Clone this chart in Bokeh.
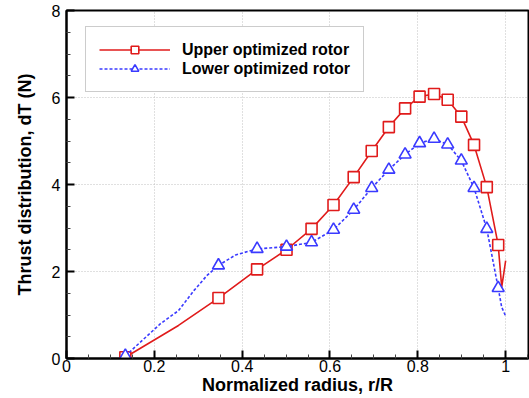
from bokeh.plotting import figure
from bokeh.models import FixedTicker, Legend, LegendItem, Range1d
from bokeh.embed import file_html
from bokeh.resources import INLINE

# Upper optimized rotor (red, solid, squares)
upper_r = [0.134, 0.255, 0.346, 0.434, 0.501, 0.558, 0.608, 0.654, 0.695, 0.734,
           0.771, 0.804, 0.837, 0.868, 0.899, 0.928, 0.957, 0.983, 0.991, 1.0]
upper_dT = [0.03, 0.76, 1.39, 2.05, 2.50, 2.98, 3.53, 4.17, 4.77, 5.32,
            5.75, 6.02, 6.08, 5.95, 5.56, 4.91, 3.94, 2.61, 1.64, 2.25]

# Lower optimized rotor (blue, dashed, triangles)
lower_r = [0.134, 0.214, 0.255, 0.290, 0.320, 0.346, 0.385, 0.434, 0.501, 0.558,
           0.608, 0.654, 0.695, 0.734, 0.771, 0.804, 0.837, 0.868, 0.899, 0.928,
           0.957, 0.983, 0.991, 1.0]
lower_dT = [0.06, 0.80, 1.10, 1.56, 1.91, 2.14, 2.38, 2.52, 2.57, 2.67,
            2.96, 3.42, 3.92, 4.34, 4.69, 4.95, 5.05, 4.92, 4.55, 3.92,
            2.98, 1.62, 1.18, 0.97]

# radii at which symbols are drawn
marker_r = [0.134, 0.346, 0.434, 0.501, 0.558, 0.608, 0.654, 0.695, 0.734, 0.771,
            0.804, 0.837, 0.868, 0.899, 0.928, 0.957, 0.983]

x_ticks = [0, 0.2, 0.4, 0.6, 0.8, 1]
x_tick_labels = ["0", "0.2", "0.4", "0.6", "0.8", "1"]
x_minor = [0.05, 0.1, 0.15, 0.25, 0.3, 0.35, 0.45, 0.5, 0.55, 0.65, 0.7, 0.75, 0.85, 0.9, 0.95, 1.05]
y_ticks = [0, 2, 4, 6, 8]
y_minor = [0.5, 1, 1.5, 2.5, 3, 3.5, 4.5, 5, 5.5, 6.5, 7, 7.5]

labels = ["Upper optimized rotor", "Lower optimized rotor"]

RED = "#e01b1b"
BLUE = "#3a3aff"

def pick(xs, ys):
    mx, my = [], []
    for x, y in zip(xs, ys):
        if x in marker_r:
            mx.append(x)
            my.append(y)
    return mx, my

p = figure(width=529, height=398, output_backend="svg", toolbar_location=None,
           x_range=Range1d(0, 1.052), y_range=Range1d(0, 8),
           min_border_left=66, min_border_right=1, min_border_top=10, min_border_bottom=40)
p.background_fill_color = "white"
p.border_fill_color = "white"
p.outline_line_color = "black"
p.outline_line_width = 2
p.outline_line_alpha = 1

FONT = "Liberation Sans"
for ax in (p.xaxis[0], p.yaxis[0]):
    ax.axis_line_width = 2
    ax.axis_line_color = "black"
    ax.major_tick_in = 8
    ax.major_tick_out = 0
    ax.minor_tick_in = 4
    ax.minor_tick_out = 0
    ax.major_tick_line_width = 2
    ax.major_tick_line_color = "black"
    ax.minor_tick_line_width = 1
    ax.minor_tick_line_color = "#444444"
    ax.major_label_text_font = FONT
    ax.major_label_text_font_size = "16px"
    ax.major_label_text_color = "black"
    ax.axis_label_text_font = FONT
    ax.axis_label_text_font_size = "18px"
    ax.axis_label_text_font_style = "bold"
    ax.axis_label_text_color = "black"

p.xaxis[0].ticker = FixedTicker(ticks=x_ticks, minor_ticks=x_minor)
p.xaxis[0].major_label_overrides = {t: s for t, s in zip(x_ticks, x_tick_labels)}
p.yaxis[0].ticker = FixedTicker(ticks=y_ticks, minor_ticks=y_minor)
p.xaxis[0].axis_label = "Normalized radius, r/R"
p.yaxis[0].axis_label = "Thrust distribution, dT (N)"
p.xaxis[0].major_label_standoff = 1
p.xaxis[0].axis_label_standoff = 0
p.yaxis[0].major_label_standoff = 6
p.yaxis[0].axis_label_standoff = 14

for g in (p.xgrid[0], p.ygrid[0]):
    g.grid_line_color = "#c0c0c0"
    g.grid_line_dash = "1 2"
    g.grid_line_width = 1
p.xgrid[0].ticker = FixedTicker(ticks=x_ticks)
p.ygrid[0].ticker = FixedTicker(ticks=y_ticks)

ul = p.line(upper_r, upper_dT, line_color=RED, line_width=1.6)
umx, umy = pick(upper_r, upper_dT)
um = p.scatter(umx, umy, marker="square", size=11, line_color=RED, line_width=1.6,
               fill_color="white")

ll = p.line(lower_r, lower_dT, line_color=BLUE, line_width=1.6, line_dash="3 2")
lmx, lmy = pick(lower_r, lower_dT)
lm = p.scatter(lmx, lmy, marker="triangle", size=12, line_color=BLUE, line_width=1.6,
               fill_color="white")

legend = Legend(items=[LegendItem(label=labels[0], renderers=[ul, um]),
                       LegendItem(label=labels[1], renderers=[ll, lm])],
                location=(19, 266))
legend.glyph_width = 71
legend.glyph_height = 19
legend.label_height = 19
legend.label_standoff = 12
legend.spacing = 0
legend.padding = 13
legend.margin = 0
legend.border_line_color = "#999999"
legend.border_line_width = 1
legend.background_fill_color = "white"
legend.background_fill_alpha = 1
legend.label_text_font = FONT
legend.label_text_font_size = "16px"
legend.label_text_font_style = "bold"
legend.label_text_color = "black"
p.add_layout(legend, "center")

open("out.html", "w").write(file_html(p, INLINE))
